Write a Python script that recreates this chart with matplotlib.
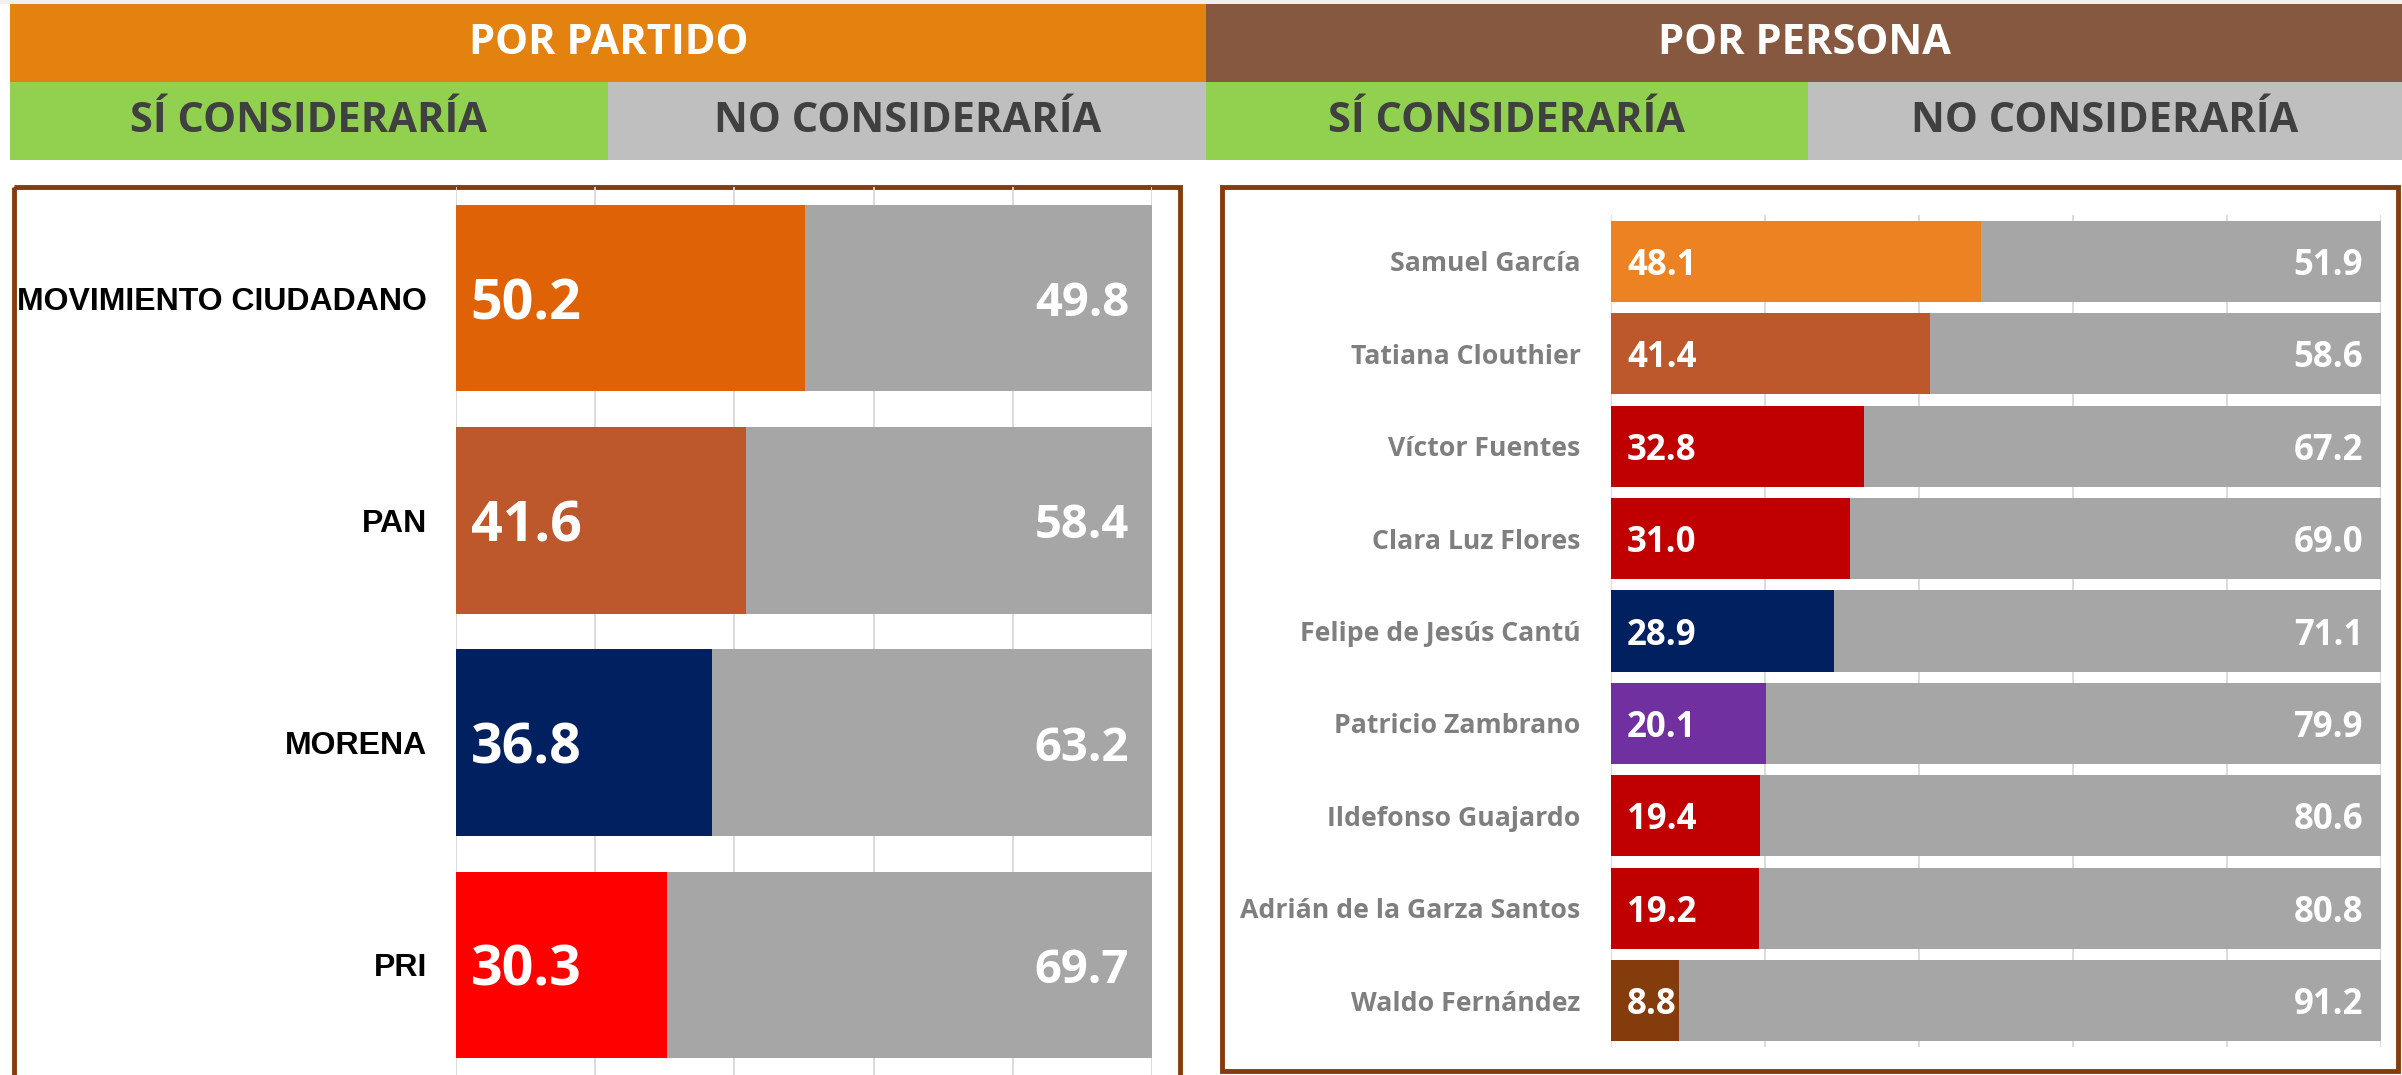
import matplotlib.pyplot as plt
from matplotlib.patches import Rectangle
import numpy as np

# data
parties = ["MOVIMIENTO CIUDADANO", "PAN", "MORENA", "PRI"]
party_yes = [50.2, 41.6, 36.8, 30.3]
party_no = [49.8, 58.4, 63.2, 69.7]
party_colors = ["#DF6306", "#BD582C", "#002060", "#FF0000"]

people = ["Samuel García", "Tatiana Clouthier", "Víctor Fuentes", "Clara Luz Flores",
          "Felipe de Jesús Cantú", "Patricio Zambrano", "Ildefonso Guajardo",
          "Adrián de la Garza Santos", "Waldo Fernández"]
people_yes = [48.1, 41.4, 32.8, 31.0, 28.9, 20.1, 19.4, 19.2, 8.8]
people_no = [51.9, 58.6, 67.2, 69.0, 71.1, 79.9, 80.6, 80.8, 91.2]
people_colors = ["#ED8223", "#BD582C", "#C00000", "#C00000", "#002060",
                 "#7030A0", "#C00000", "#C00000", "#843C0C"]

GRAY_BAR = "#A6A6A6"
BORDER = "#843C0C"

W, H = 2402, 1075
fig = plt.figure(figsize=(W / 100, H / 100), dpi=100)


def px_axes(x0, y0, x1, y1):
    return fig.add_axes([x0 / W, 1 - y1 / H, (x1 - x0) / W, (y1 - y0) / H])


# background layer in pixel coords for headers and panel frames
bg = px_axes(0, 0, W, H)
bg.set_xlim(0, W)
bg.set_ylim(H, 0)
bg.axis("off")

bg.add_patch(Rectangle((0, 0), W, 4, color="#F0F0F0", lw=0))
headers = [
    (10, 1207, "#E3820F", "POR PARTIDO"),
    (1206, W, "#875840", "POR PERSONA"),
]
for x0, x1, c, t in headers:
    bg.add_patch(Rectangle((x0, 4), x1 - x0, 78, color=c, lw=0))
    bg.text((x0 + x1) / 2, 44, t, ha="center", va="center", color="white",
            fontsize=30, fontweight="bold", family="Open Sans")

subs = [
    (10, 608, "#92D050", "SÍ CONSIDERARÍA"),
    (608, 1207, "#BFBFBF", "NO CONSIDERARÍA"),
    (1206, 1808, "#92D050", "SÍ CONSIDERARÍA"),
    (1808, W, "#BFBFBF", "NO CONSIDERARÍA"),
]
for x0, x1, c, t in subs:
    bg.add_patch(Rectangle((x0, 82), x1 - x0, 78, color=c, lw=0))
    bg.text((x0 + x1) / 2, 122, t, ha="center", va="center", color="#404040",
            fontsize=30, fontweight="bold", family="Open Sans")

bg.add_patch(Rectangle((14, 187), 1166, 920, fill=False, edgecolor=BORDER, lw=3.5))
bg.add_patch(Rectangle((1222, 187), 1176, 884, fill=False, edgecolor=BORDER, lw=3.5))


def stacked(ax, names, yes, no, colors, bar_h, name_kw, name_pad,
            big, small, pad_in, pad_out):
    y = np.arange(len(names))
    ax.set_facecolor("none")
    ax.barh(y, yes, height=bar_h, color=colors, zorder=2)
    ax.barh(y, no, left=yes, height=bar_h, color=GRAY_BAR, zorder=2)
    ax.set_xlim(0, 100)
    ax.set_ylim(len(names) - 0.5, -0.5)
    ax.set_xticks(range(0, 101, 20))
    ax.grid(axis="x", color="#D9D9D9", lw=1.3, zorder=0)
    ax.set_axisbelow(True)
    ax.tick_params(axis="x", length=0, labelbottom=False)
    ax.set_yticks(y, names, **name_kw)
    ax.tick_params(axis="y", length=0, pad=name_pad)
    for s in ax.spines.values():
        s.set_visible(False)
    for i in range(len(names)):
        ax.annotate(f"{yes[i]:.1f}", xy=(0, i), xytext=(pad_in, 0),
                    textcoords="offset points", ha="left", va="center_baseline",
                    color="white", fontsize=big, fontweight="bold",
                    family="Open Sans", zorder=3)
        ax.annotate(f"{no[i]:.1f}", xy=(100, i), xytext=(-pad_out, 0),
                    textcoords="offset points", ha="right", va="center_baseline",
                    color="white", fontsize=small, fontweight="bold",
                    family="Open Sans", zorder=3)


ax1 = px_axes(456, 187, 1152, 1076)
stacked(ax1, parties, party_yes, party_no, party_colors, 0.84,
        dict(fontsize=23, fontweight="bold", family="Liberation Sans", color="black"),
        21, 40, 34, 10.5, 16.5)

ax2 = px_axes(1611, 215, 2381, 1047)
stacked(ax2, people, people_yes, people_no, people_colors, 0.877,
        dict(fontsize=19.2, fontweight="bold", family="Open Sans", color="#7F7F7F"),
        22, 25, 25, 11.5, 13)

fig.savefig("out.png", dpi=100)
